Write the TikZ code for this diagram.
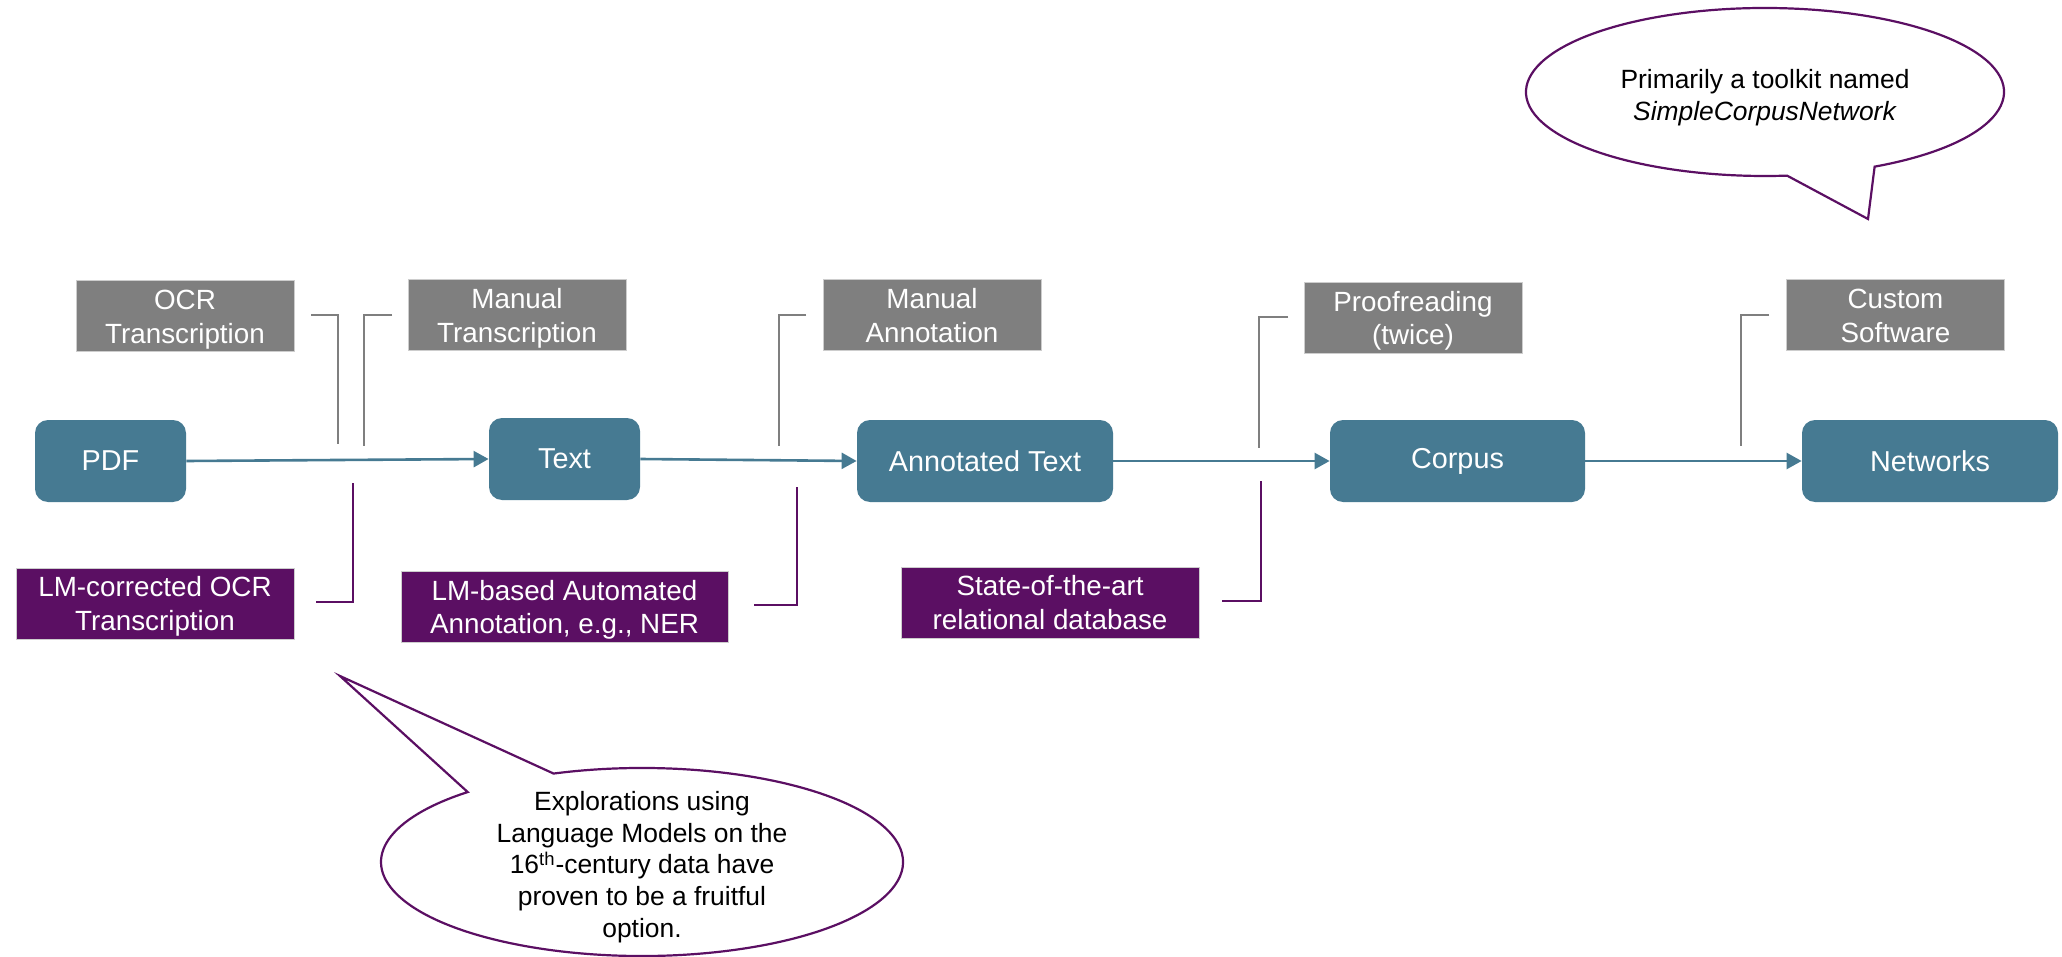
\documentclass[tikz,border=0pt]{standalone}
\usepackage{fontspec}
\setmainfont{Liberation Sans}
\usetikzlibrary{arrows.meta,calc}

\definecolor{flowblue}{RGB}{70,122,146}
\definecolor{toolgray}{RGB}{127,127,127}
\definecolor{lmpurple}{RGB}{91,15,99}
\definecolor{edgegray}{RGB}{205,205,205}

% struts that balance two-line labels on cap height and baseline
\newcommand{\labeltop}{\rule{0pt}{13.2pt}}
\newcommand{\labelbot}{\rule[-3.2pt]{0pt}{3.2pt}}

\begin{document}
\begin{tikzpicture}[x=0.5pt,y=-0.5pt,
  stage/.style={font=\fontsize{14.4}{17}\selectfont, fill=flowblue, rounded corners=6.5pt,
    text=white, minimum height=41pt, inner sep=0pt},
  labelfont/.style={font=\fontsize{13.9}{16.9}\selectfont},
  manual/.style={labelfont, fill=toolgray, draw=edgegray, line width=0.5pt,
    text=white, align=center, minimum width=109pt, minimum height=35.5pt, inner sep=0pt},
  lmbox/.style={labelfont, fill=lmpurple, draw=edgegray, line width=0.5pt,
    text=white, align=center, minimum height=35.5pt, inner sep=0pt},
  flow/.style={draw=flowblue, line width=1.3pt, -{Triangle[length=7.5pt,width=8pt]}},
  graylink/.style={draw=toolgray, line width=1pt},
  purplelink/.style={draw=lmpurple, line width=1.25pt},
  bubble/.style={draw=lmpurple, line width=1.1pt, fill=white, line join=miter},
  bubbletext/.style={font=\fontsize{13.2}{15.85}\selectfont, align=center, inner sep=0pt}
]
\fill[white] (0,0) rectangle (2062,957);
\useasboundingbox (0,0) rectangle (2062,957);

% main pipeline
\node[stage, minimum width=75.5pt]  (pdf)    at (110.5,461) {PDF};
\node[stage, minimum width=75.5pt]  (txt)    at (564.5,459) {Text};
\node[stage, minimum width=128pt]   (annot)  at (985,461)   {Annotated Text};
\node[stage, minimum width=127.5pt] (corpus) at (1457.5,461) {Corpus};
\node[stage, minimum width=128pt]   (net)    at (1930,461)  {Networks};

\draw[flow] (pdf.east)    -- (txt.west);
\draw[flow] (txt.east)    -- (annot.west);
\draw[flow] (annot.east)  -- (corpus.west);
\draw[flow] (corpus.east) -- (net.west);

% manual / conventional methods
\node[manual] (ocr)    at (185,316.5)    {\labeltop OCR\\Transcription\labelbot};
\node[manual] (mtrans) at (517,315.5)    {\labeltop Manual\\Transcription\labelbot};
\node[manual] (mannot) at (932,315.5)    {\labeltop Manual\\Annotation\labelbot};
\node[manual] (proof)  at (1413,318)     {\labeltop Proofreading\\(twice)\labelbot};
\node[manual] (custom) at (1895.5,315.5) {\labeltop Custom\\Software\labelbot};

\draw[graylink] (311,315) -- (338,315) -- (338,444);
\draw[graylink] (392,315) -- (364,315) -- (364,446);
\draw[graylink] (806,315) -- (779,315) -- (779,446);
\draw[graylink] (1288,317) -- (1259,317) -- (1259,448);
\draw[graylink] (1769,315) -- (1741,315) -- (1741,446);

% language-model based methods
\node[lmbox, minimum width=139pt]   (lmocr) at (155,603.5)  {\labeltop LM-corrected OCR\\Transcription\labelbot};
\node[lmbox, minimum width=163.5pt] (lmner) at (564.5,607)  {\labeltop LM-based Automated\\Annotation, e.g., NER\labelbot};
\node[lmbox, minimum width=149pt]   (rdb)   at (1050,602.5) {\labeltop State-of-the-art\\relational database\labelbot};

\draw[purplelink] (353,483) -- (353,602) -- (316,602);
\draw[purplelink] (797,487) -- (797,605) -- (754,605);
\draw[purplelink] (1261,481) -- (1261,601) -- (1222,601);

% speech bubble, top right
\coordinate (cT) at (1765,92);
\coordinate (tipT) at (1868,219);
\draw[bubble] (tipT) -- ($(cT)+(62.7:239 and 84)$)
  arc[start angle=62.7, end angle=-275.3, x radius=239, y radius=84] -- cycle;
\node[bubbletext] (noteT) at (1765,98)
  {Primarily a toolkit named\\\textit{SimpleCorpusNetwork}};

% speech bubble, bottom
\coordinate (cB) at (642,862);
\coordinate (tipB) at (340,676);
\draw[bubble] (tipB) -- ($(cB)+(-109.8:261 and 94)$)
  arc[start angle=-109.8, end angle=228.1, x radius=261, y radius=94] -- cycle;
\node[bubbletext] (noteB) at (642,867)
  {Explorations using\\Language Models on the\\16\textsuperscript{th}-century data have\\proven to be a fruitful\\option.};
\end{tikzpicture}
\end{document}
